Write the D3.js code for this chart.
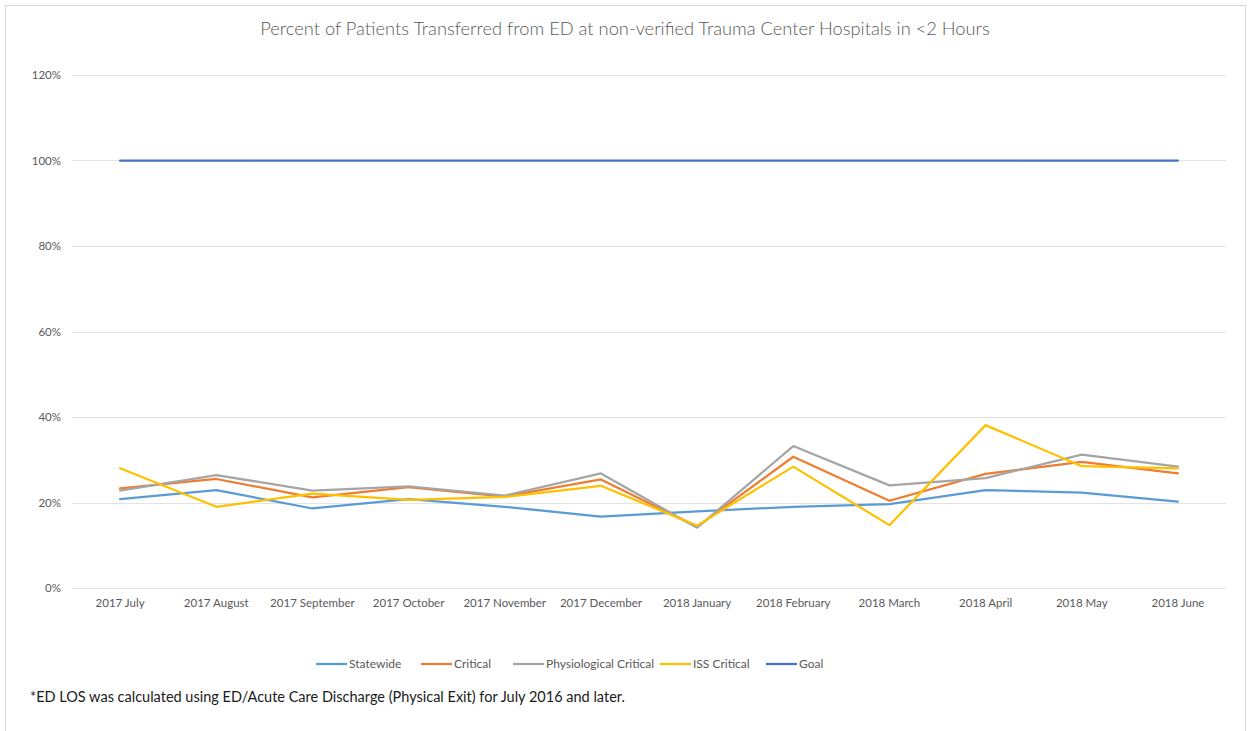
<!DOCTYPE html>
<html>
<head>
<meta charset="utf-8">
<script src="https://cdn.jsdelivr.net/npm/d3@7"></script>
<style>
  html, body { margin: 0; padding: 0; background: #fff; }
  svg { display: block; font-family: Lato, "Open Sans", sans-serif; }
</style>
</head>
<body>
<svg id="chart" width="1251" height="731"></svg>
<script>
const categories = ["2017 July","2017 August","2017 September","2017 October","2017 November","2017 December","2018 January","2018 February","2018 March","2018 April","2018 May","2018 June"];
const statewide = [20.8, 22.9, 18.6, 20.8, 19.0, 16.7, 17.9, 19.0, 19.6, 22.9, 22.3, 20.2];
const critical = [23.3, 25.5, 21.2, 23.6, 21.4, 25.4, 14.3, 30.7, 20.4, 26.7, 29.5, 26.8];
const physiological = [22.8, 26.4, 22.8, 23.8, 21.6, 26.8, 14.1, 33.2, 24.0, 25.7, 31.2, 28.4];
const issCritical = [28.0, 19.0, 22.1, 20.6, 21.3, 23.9, 14.6, 28.4, 14.7, 38.1, 28.5, 28.0];
const goal = [100, 100, 100, 100, 100, 100, 100, 100, 100, 100, 100, 100];
const yTicks = [0, 20, 40, 60, 80, 100, 120];
const seriesNames = ["Statewide", "Critical", "Physiological Critical", "ISS Critical", "Goal"];
const title = "Percent of Patients Transferred from ED at non-verified Trauma Center Hospitals in <2 Hours";
const footnote = "*ED LOS was calculated using ED/Acute Care Discharge (Physical Exit) for July 2016 and later.";

const colors = ["#5B9BD5", "#ED7D31", "#A5A5A5", "#FFC000", "#4472C4"];
const seriesData = [statewide, critical, physiological, issCritical, goal];

const svg = d3.select("#chart");
const mLeft = 72, mRight = 1226, mTop = 75, mBottom = 588;

svg.append("rect").attr("x", 5.5).attr("y", 5.5).attr("width", 1240).attr("height", 740)
  .attr("fill", "#fff").attr("stroke", "#D9D9D9").attr("stroke-width", 1);

const x = d3.scaleBand().domain(categories).range([mLeft, mRight]);
const y = d3.scaleLinear().domain([0, 120]).range([mBottom, mTop]);

// grid
svg.append("g").selectAll("line").data(yTicks).join("line")
  .attr("x1", mLeft).attr("x2", mRight)
  .attr("y1", d => Math.round(y(d)) + 0.5).attr("y2", d => Math.round(y(d)) + 0.5)
  .attr("stroke", "#E3E3E3").attr("stroke-width", 1);

// y axis labels
const yAxis = d3.axisLeft(y).tickValues(yTicks).tickFormat(d => d + "%").tickSize(0).tickPadding(11);
const gy = svg.append("g").attr("transform", `translate(${mLeft},0)`).call(yAxis);
gy.select(".domain").remove();
gy.selectAll("text").attr("fill", "#595959").style("font-size", "11.5px").style("font-family", "Lato, sans-serif");

// x axis labels
const xAxis = d3.axisBottom(x).tickSize(0).tickPadding(11);
const gx = svg.append("g").attr("transform", `translate(0,${mBottom})`).call(xAxis);
gx.select(".domain").remove();
gx.selectAll("text").attr("fill", "#595959").style("font-size", "11.5px").style("font-family", "Lato, sans-serif");

// lines
const line = d3.line().x((d, i) => x(categories[i]) + x.bandwidth() / 2).y(d => y(d));
seriesData.forEach((s, k) => {
  svg.append("path").datum(s).attr("d", line)
    .attr("fill", "none").attr("stroke", colors[k]).attr("stroke-width", 2.25)
    .attr("stroke-linejoin", "round").attr("stroke-linecap", "round");
});

// title
svg.append("text").attr("x", 625).attr("y", 35).attr("text-anchor", "middle")
  .attr("fill", "#595959").style("font-size", "18.3px").style("font-weight", 300).text(title);

// legend
const legendX = [316, 421, 513, 660, 766];
const lg = svg.append("g");
seriesNames.forEach((n, k) => {
  lg.append("line").attr("x1", legendX[k]).attr("x2", legendX[k] + 31)
    .attr("y1", 664).attr("y2", 664).attr("stroke", colors[k]).attr("stroke-width", 2.25);
  lg.append("text").attr("x", legendX[k] + 33).attr("y", 668)
    .attr("fill", "#595959").style("font-size", "12px").text(n);
});

// footnote
svg.append("text").attr("x", 30).attr("y", 702).attr("fill", "#1a1a1a")
  .style("font-size", "14.5px").text(footnote);
</script>
</body>
</html>
